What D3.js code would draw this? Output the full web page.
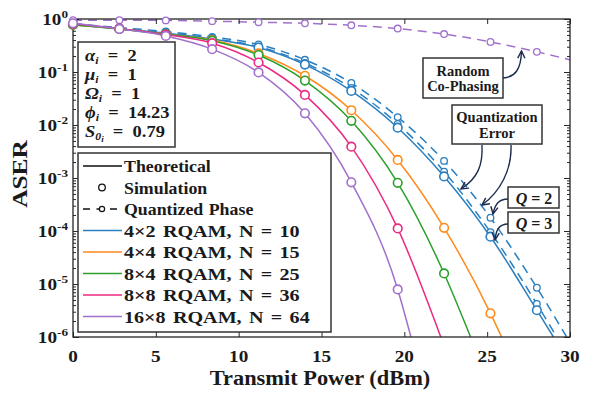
<!DOCTYPE html>
<html><head><meta charset="utf-8">
<script src="https://cdn.jsdelivr.net/npm/d3@7"></script>
<style>
body{margin:0;background:#fff}
svg{display:block}
text{font-family:"Liberation Serif","Times New Roman",serif;font-weight:bold;fill:#1a1a1a}
</style>
</head><body><svg id="c" width="589" height="393"></svg>
<script>
// ---------------- data ----------------
const xPoints = [0, 2.8, 5.6, 8.4, 11.2, 14, 16.8, 19.6, 22.4, 25.2, 28];
const xTicks = [0, 5, 10, 15, 20, 25, 30];
const yExponents = [0, -1, -2, -3, -4, -5, -6];
const seriesLabels = ["4\u00D72 RQAM, N = 10", "4\u00D74 RQAM, N = 15", "8\u00D74 RQAM, N = 25", "8\u00D78 RQAM, N = 36", "16\u00D78 RQAM, N = 64"];
const seriesColors = ["#2a7fc0", "#ff8a1c", "#2ca02c", "#ec2a82", "#a070cc"];
// theoretical / simulated ASER at xPoints
const aser4x2 = [0.78, 0.65, 0.54, 0.42, 0.29, 0.138, 0.044, 8.9e-3, 1.07e-3, 7.8e-5, 3.2e-6];
const aser4x4 = [0.78, 0.65, 0.52, 0.40, 0.224, 0.085, 0.019, 2.19e-3, 1.15e-4, 2.8e-6];
const aser8x4 = [0.78, 0.65, 0.52, 0.39, 0.209, 0.069, 0.012, 8.1e-4, 1.58e-5];
const aser8x8 = [0.81, 0.66, 0.51, 0.35, 0.151, 0.037, 3.9e-3, 1.12e-4];
const aser16x8 = [0.83, 0.65, 0.48, 0.27, 0.098, 0.0166, 8.3e-4, 7.9e-6];
// power where each theoretical curve leaves the plot at 1e-6
const cutoffPower = [29.0, 25.87, 24.0, 22.2, 20.4];
// quantized phase, 4x2 RQAM
const aserQ3 = [0.79, 0.66, 0.55, 0.43, 0.30, 0.148, 0.050, 0.0105, 1.32e-3, 9.5e-5, 4.2e-6];
const aserQ2 = [0.81, 0.69, 0.58, 0.46, 0.33, 0.17, 0.062, 0.0141, 2.1e-3, 1.78e-4, 8.5e-6];
const cutoffQ3 = 29.2, cutoffQ2 = 29.8;
// random co-phasing, 16x8 RQAM
const aserRandom = [0.95, 0.95, 0.94, 0.91, 0.87, 0.83, 0.76, 0.66, 0.52, 0.37, 0.24];
const randomEnd = [30, 0.17];
const params = [["\u03B1", "i", null, "2"], ["\u03BC", "i", null, "1"], ["\u03A9", "i", null, "1"], ["\u03D5", "i", null, "14.23"], ["S", "0", "i", "0.79"]];

// ---------------- layout ----------------
const svg = d3.select("#c");
const L = 73, R = 570, T = 19, B = 337;
const x = d3.scaleLinear().domain([0, 30]).range([L, R]);
const y = d3.scaleLog().domain([1e-6, 1]).range([B, T]);
const axisColor = "#262626";

const defs = svg.append("defs");
defs.append("clipPath").attr("id", "clip")
  .append("rect").attr("x", L).attr("y", T).attr("width", R - L).attr("height", B - T);
defs.append("marker").attr("id", "arr").attr("viewBox", "0 0 10 10").attr("refX", 9).attr("refY", 5)
  .attr("markerWidth", 9).attr("markerHeight", 9).attr("orient", "auto").attr("markerUnits", "userSpaceOnUse")
  .append("path").attr("d", "M1,1 L9,5 L1,9").attr("fill", "none").attr("stroke", "#1e2d4f").attr("stroke-width", 1.6);

const plot = svg.append("g").attr("clip-path", "url(#clip)");
const markG = svg.append("g");
const line = d3.line().x(d => x(d[0])).y(d => y(d[1])).curve(d3.curveMonotoneX);
const toPts = (arr, endX) => {
  const p = arr.map((v, i) => [xPoints[i], v]);
  if (endX != null) p.push([endX, 1e-6]);
  return p;
};

// random co-phasing dashed
const randPts = toPts(aserRandom); randPts.push(randomEnd);
plot.append("path").attr("d", line(randPts)).attr("fill", "none").attr("stroke", seriesColors[4])
  .attr("stroke-width", 1.5).attr("stroke-dasharray", "9,6");
// quantized dashed
[[aserQ2, cutoffQ2], [aserQ3, cutoffQ3]].forEach(([a, c]) => {
  plot.append("path").attr("d", line(toPts(a, c))).attr("fill", "none").attr("stroke", seriesColors[0])
    .attr("stroke-width", 1.5).attr("stroke-dasharray", "9,6");
});
// theoretical
const allSeries = [aser4x2, aser4x4, aser8x4, aser8x8, aser16x8];
allSeries.forEach((a, i) => {
  plot.append("path").attr("d", line(toPts(a, cutoffPower[i]))).attr("fill", "none")
    .attr("stroke", seriesColors[i]).attr("stroke-width", 1.5);
});
// markers
const mk = (arr, color, r, sw) => {
  markG.append("g").selectAll("circle").data(arr.map((v, i) => [xPoints[i], v]).filter(d => d[1] >= 1e-6))
    .join("circle").attr("cx", d => x(d[0])).attr("cy", d => y(d[1])).attr("r", r)
    .attr("fill", "white").attr("stroke", color).attr("stroke-width", sw);
};
mk(aserRandom, seriesColors[4], 3.3, 1.3);
mk(aserQ2, seriesColors[0], 3.3, 1.3);
mk(aserQ3, seriesColors[0], 3.3, 1.3);
allSeries.forEach((a, i) => mk(a, seriesColors[i], 4.3, 1.6));

// ---------------- axes ----------------
const minorY = [];
for (let e = -6; e < 0; e++) for (let m = 2; m <= 9; m++) minorY.push(m * Math.pow(10, e));
const majorY = yExponents.map(e => Math.pow(10, e));
const axG = svg.append("g").attr("class", "axes");
const styleAxis = g => { g.select(".domain").remove(); g.selectAll("line").attr("stroke", axisColor).attr("stroke-width", 1); };
axG.append("g").attr("transform", `translate(0,${B})`).call(d3.axisBottom(x).tickValues(xTicks).tickSize(-5).tickFormat("")).call(styleAxis);
axG.append("g").attr("transform", `translate(0,${T})`).call(d3.axisTop(x).tickValues(xTicks).tickSize(-5).tickFormat("")).call(styleAxis);
axG.append("g").attr("transform", `translate(${L},0)`).call(d3.axisLeft(y).tickValues(majorY).tickSize(-6).tickFormat("")).call(styleAxis);
axG.append("g").attr("transform", `translate(${L},0)`).call(d3.axisLeft(y).tickValues(minorY).tickSize(-3).tickFormat("")).call(styleAxis);
axG.append("g").attr("transform", `translate(${R},0)`).call(d3.axisRight(y).tickValues(majorY).tickSize(-6).tickFormat("")).call(styleAxis);
axG.append("g").attr("transform", `translate(${R},0)`).call(d3.axisRight(y).tickValues(minorY).tickSize(-3).tickFormat("")).call(styleAxis);
svg.append("rect").attr("x", L).attr("y", T).attr("width", R - L).attr("height", B - T)
  .attr("fill", "none").attr("stroke", axisColor).attr("stroke-width", 1.3);
markG.raise();

// tick labels
svg.append("g").selectAll("text").data(xTicks).join("text")
  .attr("transform", d => `translate(${x(d)},362) scale(1.2,1)`).attr("text-anchor", "middle")
  .attr("font-size", 16).text(d => d);
const yl = svg.append("g").selectAll("text").data(yExponents).join("text")
  .attr("transform", d => `translate(68,${y(Math.pow(10, d)) + 6}) scale(1.2,1)`).attr("text-anchor", "end")
  .attr("font-size", 16);
yl.append("tspan").text("10");
yl.append("tspan").attr("dy", -7).attr("font-size", 11).text(d => d === 0 ? "0" : "-" + Math.abs(d));
svg.append("text").attr("transform", `translate(320,385) scale(1.12,1)`).attr("text-anchor", "middle")
  .attr("font-size", 20).text("Transmit Power (dBm)");
svg.append("text").attr("transform", `translate(27,174) rotate(-90) scale(1.27,1)`).attr("text-anchor", "middle")
  .attr("font-size", 20).text("ASER");

// ---------------- parameter box ----------------
svg.append("rect").attr("x", 78).attr("y", 42).attr("width", 97).attr("height", 105)
  .attr("fill", "white").attr("stroke", "#333").attr("stroke-width", 1.5);
params.forEach((p, i) => {
  const t = svg.append("text").attr("transform", `translate(85,${61 + i * 19}) scale(1.12,1)`).attr("font-size", 16.5);
  t.append("tspan").attr("font-style", "italic").text(p[0]);
  t.append("tspan").attr("font-style", "italic").attr("font-size", 10.5).attr("dy", 2.5).text(p[1]);
  let back = -2.5;
  if (p[2]) { t.append("tspan").attr("font-style", "italic").attr("font-size", 8).attr("dy", 2).text(p[2]); back = -4.5; }
  t.append("tspan").attr("dy", back).text("\u2002=\u2002" + p[3]);
});

// ---------------- legend ----------------
const lg = svg.append("g");
lg.append("rect").attr("x", 78).attr("y", 153).attr("width", 253).attr("height", 179)
  .attr("fill", "white").attr("stroke", "#333").attr("stroke-width", 1.5);
const legendRows = ["Theoretical", "Simulation", "Quantized Phase"].concat(seriesLabels);
legendRows.forEach((lab, i) => {
  const cy = 166 + i * 21.5;
  if (i === 0) lg.append("line").attr("x1", 83).attr("x2", 122).attr("y1", cy).attr("y2", cy).attr("stroke", "#111").attr("stroke-width", 1.5);
  if (i === 1) lg.append("circle").attr("cx", 102).attr("cy", cy).attr("r", 3.3).attr("fill", "white").attr("stroke", "#111").attr("stroke-width", 1.3);
  if (i === 2) {
    lg.append("line").attr("x1", 83).attr("x2", 122).attr("y1", cy).attr("y2", cy).attr("stroke", "#111").attr("stroke-width", 1.5).attr("stroke-dasharray", "7,6.5");
    lg.append("circle").attr("cx", 102).attr("cy", cy).attr("r", 2.6).attr("fill", "white").attr("stroke", "#111").attr("stroke-width", 1.2);
  }
  if (i >= 3) lg.append("line").attr("x1", 83).attr("x2", 122).attr("y1", cy).attr("y2", cy).attr("stroke", seriesColors[i - 3]).attr("stroke-width", 1.5);
  lg.append("text").attr("transform", `translate(124,${cy + 6}) scale(${i >= 3 ? 1.15 : 1.02},1)`).attr("font-size", 17.5)
    .attr("word-spacing", i >= 3 ? 2 : 1).text(lab);
});

// ---------------- annotations ----------------
const ann = svg.append("g");
const box = (x0, y0, w, h) => ann.append("rect").attr("x", x0).attr("y", y0).attr("width", w).attr("height", h)
  .attr("fill", "white").attr("stroke", "#333").attr("stroke-width", 1.5);
box(423, 58, 80, 40);
ann.append("text").attr("x", 463).attr("y", 75.5).attr("text-anchor", "middle").attr("font-size", 14.5).text("Random");
ann.append("text").attr("x", 463).attr("y", 91).attr("text-anchor", "middle").attr("font-size", 14.5).text("Co-Phasing");
box(452, 105, 90, 39);
ann.append("text").attr("x", 497).attr("y", 122.3).attr("text-anchor", "middle").attr("font-size", 14.5).text("Quantization");
ann.append("text").attr("x", 497).attr("y", 138.3).attr("text-anchor", "middle").attr("font-size", 14.5).text("Error");
box(508, 187, 51, 21);
box(508, 212, 51, 21);
[["2", 203.5], ["3", 228.5]].forEach(([q, by]) => {
  const t = ann.append("text").attr("x", 534).attr("y", by).attr("text-anchor", "middle").attr("font-size", 16);
  t.append("tspan").attr("font-style", "italic").text("Q");
  t.append("tspan").text(" = " + q);
});
const arrows = [
  "M503,78 C515,77 521,70 521.5,51",
  "M482,145 C483,165 478,178 461,189",
  "M511,145 C512,170 500,192 482,205",
  "M508,199 C499,199 495,204 493,214",
  "M508,224 C499,224 496,230 495,240"
];
arrows.forEach(d => ann.append("path").attr("d", d).attr("fill", "none").attr("stroke", "#1e2d4f")
  .attr("stroke-width", 1.4).attr("marker-end", "url(#arr)"));
</script>
</body></html>
